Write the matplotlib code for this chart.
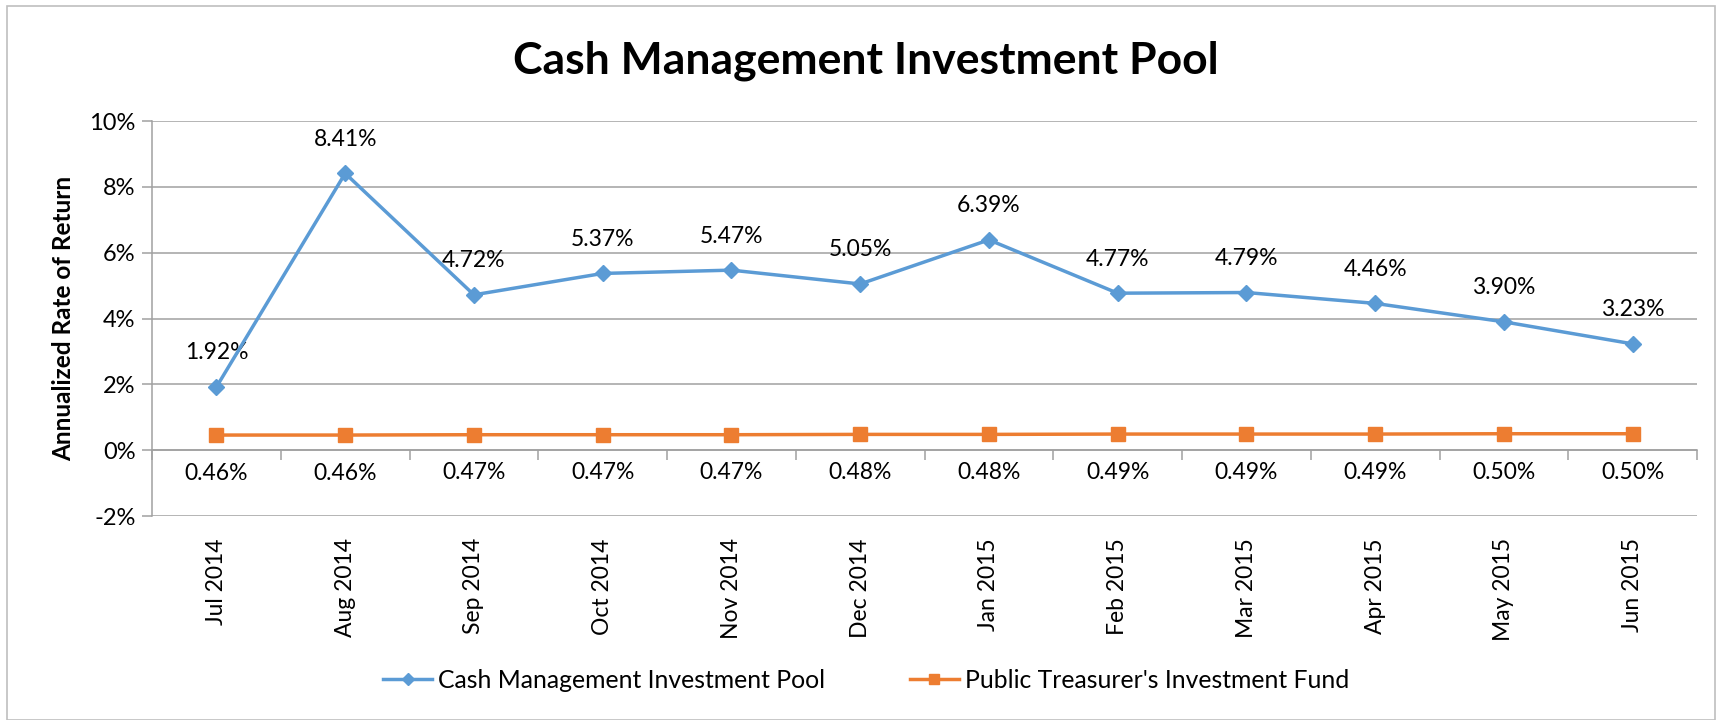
import numpy as np
import matplotlib
matplotlib.use("Agg")
import matplotlib.pyplot as plt
from matplotlib.patches import Rectangle
from matplotlib.ticker import FuncFormatter

# data
months = ["Jul 2014", "Aug 2014", "Sep 2014", "Oct 2014", "Nov 2014", "Dec 2014",
          "Jan 2015", "Feb 2015", "Mar 2015", "Apr 2015", "May 2015", "Jun 2015"]
cmip = [1.92, 8.41, 4.72, 5.37, 5.47, 5.05, 6.39, 4.77, 4.79, 4.46, 3.90, 3.23]
ptif = [0.46, 0.46, 0.47, 0.47, 0.47, 0.48, 0.48, 0.49, 0.49, 0.49, 0.50, 0.50]
yticks = [-2, 0, 2, 4, 6, 8, 10]

plt.rcParams["font.family"] = ["Lato", "DejaVu Sans"]

blue = "#5B9BD5"
orange = "#ED7D31"
grid_c = "#A0A0A0"

fig = plt.figure(figsize=(17.22, 7.2), dpi=100)
ax = fig.add_axes([0.0883, 0.2833, 0.8972, 0.5486])

x = np.arange(len(months))

# outer chart border
fig.patches.append(Rectangle((0.004, 0.0), 0.992, 0.991, transform=fig.transFigure,
                             fill=False, edgecolor="#BFBFBF", linewidth=1.2))

ax.plot(x, ptif, color=orange, lw=2.5, marker="s", markersize=10,
        label="Public Treasurer's Investment Fund", zorder=3)
ax.plot(x, cmip, color=blue, lw=2.5, marker="D", markersize=8,
        label="Cash Management Investment Pool", zorder=4)

# data labels
for i, v in enumerate(cmip):
    ax.annotate(f"{v:.2f}%", (i, v), xytext=(0, 17), textcoords="offset points",
                ha="center", va="bottom", fontsize=16.5)
for i, v in enumerate(ptif):
    ax.annotate(f"{v:.2f}%", (i, v), xytext=(0, -20), textcoords="offset points",
                ha="center", va="top", fontsize=16.5)

ax.set_xlim(-0.5, len(months) - 0.5)
ax.set_ylim(-2, 10)
ax.set_yticks(yticks)
ax.yaxis.set_major_formatter(FuncFormatter(lambda v, p: f"{v:.0f}%"))
ax.yaxis.grid(True, color=grid_c, lw=1.1)
ax.set_axisbelow(True)
ax.tick_params(axis="y", direction="out", length=7, color=grid_c, width=1.1,
               labelsize=17, pad=5)

for s in ["top", "right"]:
    ax.spines[s].set_visible(False)
ax.spines["left"].set_color(grid_c)
ax.spines["left"].set_linewidth(1.1)

# horizontal axis crosses at 0 with ticks between categories
ax.spines["bottom"].set_position(("data", 0))
ax.spines["bottom"].set_color(grid_c)
ax.spines["bottom"].set_linewidth(1.1)
ax.set_xticks(x)
ax.set_xticks(np.arange(len(months) + 1) - 0.5, minor=True)
ax.tick_params(axis="x", which="major", length=0, labelbottom=False)
ax.tick_params(axis="x", which="minor", direction="out", length=7,
               color=grid_c, width=1.1)

# category labels sit low, under the -2% line
sec = ax.secondary_xaxis("bottom")
sec.set_xticks(x)
sec.set_xticklabels(months, rotation=90, fontsize=16.5)
sec.tick_params(length=0, pad=16)
sec.spines["bottom"].set_visible(False)

ax.set_ylabel("Annualized Rate of Return", fontsize=17.5, fontweight="bold", labelpad=10)

fig.text(0.503, 0.915, "Cash Management Investment Pool", ha="center", va="center",
         fontsize=32, fontweight="bold")

h, l = ax.get_legend_handles_labels()
fig.legend(h[::-1], l[::-1], loc="center", bbox_to_anchor=(0.503, 0.055), ncol=2,
           frameon=False, fontsize=17.8, handlelength=2.0, columnspacing=3.4,
           handletextpad=0.25, markerscale=0.75)

fig.savefig("out.png", dpi=100)
